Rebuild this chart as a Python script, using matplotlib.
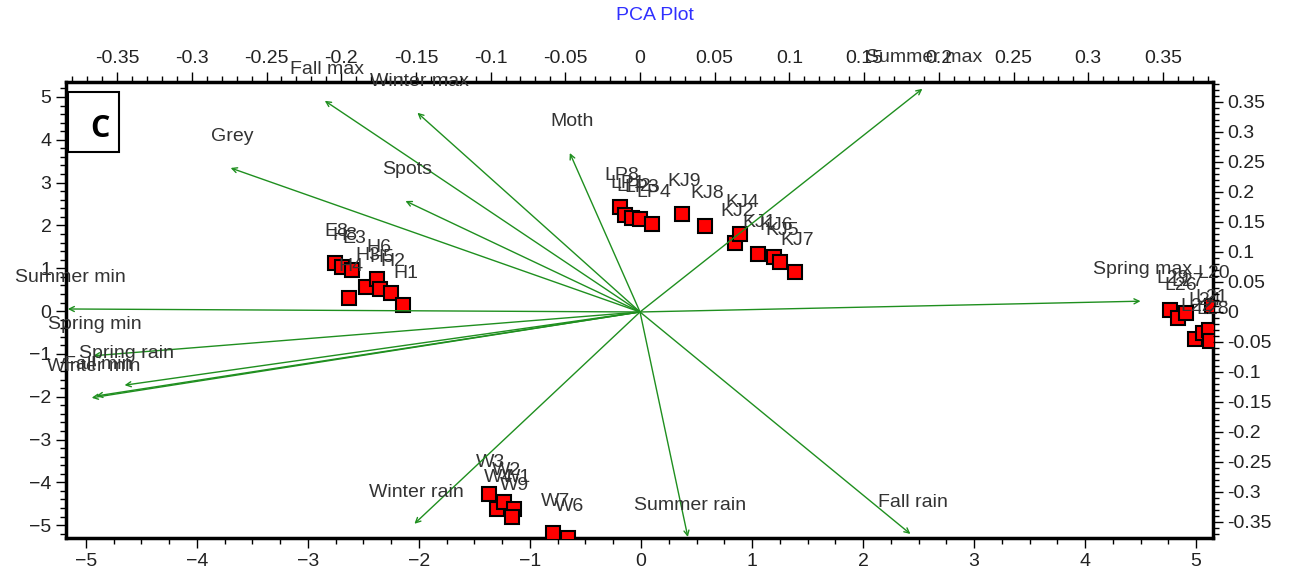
import numpy as np
import matplotlib
matplotlib.use('Agg')
from matplotlib import pyplot as plt
from matplotlib.patches import Rectangle
from matplotlib.ticker import MultipleLocator
from matplotlib import rc
rc('font', **{'family': 'sans-serif', 'sans-serif': ['Liberation Sans', 'DejaVu Sans']})

# sample scores (PC1, PC2)
sample_names = ['E8', 'H8', 'E3', 'H4', 'H3', 'H6', 'H5', 'H2', 'H1',
                'LP8', 'LP1', 'LP2', 'LP3', 'LP4', 'KJ9', 'KJ8', 'KJ2', 'KJ4',
                'KJ1', 'KJ6', 'KJ5', 'KJ7',
                'L29', 'L26', 'L27', 'L22', 'L24', 'L21', 'L28', 'L20',
                'W3', 'W4', 'W2', 'W1', 'W9', 'W7', 'W6']
score_x = [-2.76, -2.69, -2.60, -2.63, -2.48, -2.38, -2.35, -2.25, -2.14,
           -0.19, -0.14, -0.08, -0.01, 0.10, 0.37, 0.58, 0.85, 0.89,
           1.05, 1.20, 1.25, 1.39,
           4.77, 4.84, 4.91, 4.99, 5.06, 5.12, 5.13, 5.14,
           -1.37, -1.30, -1.23, -1.14, -1.16, -0.79, -0.66]
score_y = [1.12, 1.03, 0.96, 0.30, 0.56, 0.75, 0.51, 0.42, 0.14,
           2.43, 2.24, 2.17, 2.15, 2.03, 2.27, 1.99, 1.59, 1.80,
           1.33, 1.26, 1.14, 0.91,
           0.02, -0.16, -0.05, -0.65, -0.51, -0.44, -0.70, 0.12,
           -4.28, -4.63, -4.46, -4.63, -4.81, -5.19, -5.30]

# variable loadings
var_names = ['Summer min', 'Spring min', 'Spring rain', 'Winter min', 'Fall min',
             'Grey', 'Fall max', 'Winter max', 'Spots', 'Moth',
             'Summer max', 'Spring max', 'Fall rain', 'Summer rain', 'Winter rain']
load_x = [-0.383, -0.366, -0.345, -0.367, -0.364,
          -0.274, -0.211, -0.149, -0.157, -0.047,
          0.189, 0.335, 0.181, 0.032, -0.151]
load_y = [0.005, -0.073, -0.122, -0.143, -0.140,
          0.240, 0.352, 0.332, 0.185, 0.265,
          0.372, 0.018, -0.370, -0.375, -0.353]

green = '#1f8f1f'
txt = '#333333'

fig = plt.figure(figsize=(12.96, 5.8), dpi=100, facecolor='w')
pos = [66/1296, 1 - 538/580, 1147/1296, 456/580]
ax = fig.add_axes(pos)
ax.set_xlim(-5.18, 5.153)
ax.set_ylim(-5.30, 5.35)
for s in ax.spines.values():
    s.set_linewidth(2.5)
ax.xaxis.set_major_locator(MultipleLocator(1))
ax.xaxis.set_minor_locator(MultipleLocator(0.25))
ax.yaxis.set_major_locator(MultipleLocator(1))
ax.yaxis.set_minor_locator(MultipleLocator(0.2))
ax.tick_params(which='major', length=7, width=1, labelsize=14, labelcolor='#222222')
ax.tick_params(which='minor', length=4, width=1)

# loadings axes on top / right
ax2 = fig.add_axes(pos, frameon=False)
ax2.set_xlim(-0.3842, 0.3835)
ax2.set_ylim(-0.3767, 0.3833)
ax2.xaxis.tick_top()
ax2.yaxis.tick_right()
ax2.xaxis.set_major_locator(MultipleLocator(0.05))
ax2.xaxis.set_minor_locator(MultipleLocator(0.01))
ax2.yaxis.set_major_locator(MultipleLocator(0.05))
ax2.yaxis.set_minor_locator(MultipleLocator(0.01))
ax2.tick_params(which='major', length=7, width=1, labelsize=14, labelcolor='#222222')
ax2.tick_params(which='minor', length=4, width=1)
fmt = lambda v, p: '0' if abs(v) < 1e-9 else ('%g' % round(v, 2))
ax2.xaxis.set_major_formatter(fmt)
ax2.yaxis.set_major_formatter(fmt)

for i in range(len(var_names)):
    ax2.annotate('', xy=(load_x[i], load_y[i]), xytext=(0, 0),
                 arrowprops=dict(arrowstyle='->', color=green, lw=1,
                                 shrinkA=0, shrinkB=0, mutation_scale=9),
                 annotation_clip=False)
    ax2.annotate(var_names[i], xy=(load_x[i], load_y[i]), xytext=(1.5, 22.5),
                 textcoords='offset points', ha='center', va='center',
                 fontsize=14, color=txt, annotation_clip=False)

ax.plot(score_x, score_y, 's', ms=10.5, mfc='#ff0000', mec='black', mew=1.5,
        zorder=3)
for i in range(len(sample_names)):
    ax.annotate(sample_names[i], xy=(score_x[i], score_y[i]), xytext=(1.5, 23),
                textcoords='offset points', ha='center', va='center',
                fontsize=14, color=txt, annotation_clip=False, zorder=4)

# panel letter
ax.add_patch(Rectangle((0.0017, 0.846), 0.0445, 0.132, transform=ax.transAxes,
                       fill=True, facecolor='white', edgecolor='black', lw=1.5,
                       zorder=5))
ax.text(0.030, 0.898, 'C', transform=ax.transAxes, ha='center', va='center',
        fontsize=22, fontweight='bold', family='Open Sans', zorder=6)

fig.text(655/1296, 1 - 16/580, 'PCA Plot', ha='center', va='center',
         fontsize=14, color='#3030ff')

plt.savefig('out.png', dpi=100)
